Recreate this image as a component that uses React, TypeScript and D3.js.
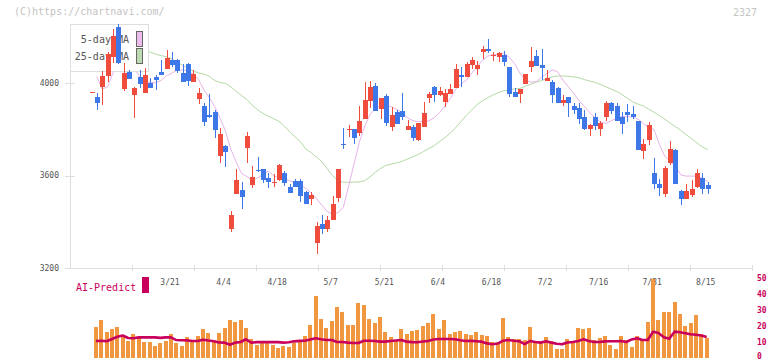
import React, { useEffect, useRef } from "react";
import * as d3 from "d3";

// daily candles, index 0 .. 115
const OPEN = [
  3962, 3942, 3986, 4033, 4116, 4243, 3977, 4049, 3951, 4027, 3960, 4001, 4026, 4049, 4061, 4101,
  4101, 4046, 4084, 4007, 3931, 3902, 3863, 3877, 3685, 3728, 3369, 3521, 3538, 3721, 3560, 3625,
  3629, 3591, 3569, 3581, 3613, 3552, 3577, 3577, 3528, 3499, 3307, 3391, 3367, 3408, 3502, 3738,
  3799, 3802, 3783, 3844, 3925, 3990, 3887, 3945, 3812, 3874, 3882, 3798, 3812, 3754, 3812, 3938,
  3986, 3949, 3921, 3954, 3981, 4036, 4026, 4079, 4062, 4134, 4149, 4119, 4113, 4123, 4069, 3964,
  3954, 3997, 4072, 4118, 4079, 4012, 4007, 3981, 3913, 3939, 3902, 3892, 3853, 3802, 3853, 3802,
  3856, 3913, 3902, 3856, 3876, 3867, 3837, 3708, 3754, 3610, 3564, 3520, 3656, 3711, 3535, 3499,
  3516, 3552, 3591, 3559,
];
const HIGH = [
  3962, 3960, 4053, 4134, 4234, 4257, 4087, 4058, 3986, 4058, 4065, 4022, 4036, 4101, 4144, 4137,
  4104, 4084, 4087, 4058, 3978, 3913, 3954, 3884, 3805, 3733, 3445, 3627, 3571, 3789, 3643, 3682,
  3629, 3613, 3606, 3650, 3620, 3564, 3587, 3585, 3535, 3531, 3398, 3430, 3425, 3512, 3629, 3808,
  3819, 3802, 3902, 4007, 4010, 4003, 3935, 3954, 3899, 3884, 3960, 3841, 3819, 3830, 3918, 3964,
  3990, 3986, 3975, 3996, 4084, 4072, 4091, 4116, 4098, 4162, 4191, 4134, 4134, 4142, 4069, 3978,
  3975, 4040, 4156, 4144, 4147, 4058, 4014, 3986, 3949, 3939, 3913, 3916, 3884, 3824, 3870, 3837,
  3923, 3921, 3913, 3877, 3910, 3902, 3837, 3758, 3834, 3678, 3586, 3643, 3750, 3715, 3538, 3564,
  3581, 3629, 3610, 3571,
];
const LOW = [
  3962, 3884, 3906, 4007, 4090, 4082, 3967, 4019, 3851, 3981, 3960, 3978, 3971, 4036, 4061, 4072,
  4043, 4007, 3990, 4007, 3910, 3815, 3848, 3765, 3656, 3636, 3357, 3521, 3457, 3653, 3548, 3616,
  3567, 3548, 3552, 3577, 3555, 3523, 3552, 3487, 3477, 3471, 3259, 3346, 3354, 3408, 3487, 3714,
  3769, 3736, 3772, 3844, 3895, 3882, 3844, 3815, 3793, 3824, 3841, 3798, 3752, 3752, 3812, 3916,
  3921, 3947, 3899, 3954, 3981, 3986, 4026, 4061, 4036, 4104, 4130, 4098, 4094, 4077, 3942, 3942,
  3916, 3997, 4051, 4075, 4014, 4012, 3916, 3916, 3902, 3856, 3866, 3824, 3798, 3772, 3798, 3772,
  3837, 3867, 3838, 3780, 3834, 3844, 3711, 3672, 3733, 3541, 3513, 3509, 3646, 3564, 3473, 3499,
  3506, 3548, 3519, 3519,
];
const CLOSE = [
  3962, 3916, 4032, 4127, 4205, 4090, 4043, 4019, 3980, 3999, 4036, 3978, 4014, 4038, 4111, 4081,
  4053, 4007, 4012, 4040, 3958, 3834, 3856, 3798, 3780, 3701, 3430, 3581, 3509, 3772, 3596, 3620,
  3581, 3574, 3572, 3646, 3570, 3526, 3552, 3513, 3477, 3516, 3382, 3368, 3408, 3477, 3629, 3736,
  3801, 3762, 3837, 3928, 3986, 3882, 3935, 3830, 3863, 3824, 3856, 3815, 3765, 3827, 3870, 3954,
  3949, 3968, 3957, 3975, 4062, 4026, 4084, 4101, 4079, 4149, 4142, 4121, 4130, 4094, 3954, 3942,
  3975, 4040, 4097, 4075, 4068, 4025, 3949, 3916, 3928, 3916, 3884, 3845, 3802, 3819, 3817, 3827,
  3913, 3882, 3838, 3824, 3863, 3856, 3711, 3737, 3819, 3564, 3548, 3635, 3715, 3564, 3499, 3535,
  3542, 3610, 3542, 3542,
];

const MA5 = [
  null, 4029, 3975, 3985, 4045, 4074, 4097, 4097, 4067, 4026, 4012, 4003, 4003, 4013, 4033, 4044,
  4057, 4058, 4053, 4040, 4014, 3972, 3938, 3900, 3848, 3794, 3715, 3660, 3610, 3596, 3580, 3590,
  3605, 3620, 3600, 3590, 3585, 3578, 3570, 3560, 3545, 3525, 3500, 3472, 3445, 3432, 3440, 3462,
  3555, 3650, 3745, 3815, 3865, 3890, 3906, 3905, 3898, 3887, 3873, 3850, 3838, 3834, 3834, 3838,
  3852, 3874, 3902, 3935, 3975, 3998, 4014, 4045, 4072, 4100, 4118, 4124, 4127, 4130, 4112, 4085,
  4043, 4012, 4005, 4007, 4025, 4043, 4058, 4050, 4014, 3985, 3957, 3925, 3900, 3873, 3850, 3832,
  3826, 3838, 3848, 3856, 3856, 3854, 3845, 3826, 3810, 3800, 3735, 3685, 3660, 3640, 3603, 3598,
  3598, 3598, 3590, 3575,
];
const MA25 = [
  4190, 4185, 4180, 4175, 4170, 4165, 4160, 4155, 4150, 4146, 4142, 4135, 4126, 4120, 4115, 4105,
  4090, 4078, 4068, 4052, 4045, 4040, 4030, 4012, 4003, 4000, 3985, 3965, 3947, 3930, 3905, 3885,
  3870, 3858, 3847, 3835, 3815, 3790, 3768, 3747, 3715, 3700, 3680, 3660, 3630, 3600, 3578, 3572,
  3571, 3572, 3573, 3578, 3595, 3615, 3632, 3645, 3650, 3656, 3662, 3672, 3682, 3692, 3705, 3718,
  3730, 3748, 3765, 3785, 3808, 3835, 3862, 3885, 3908, 3925, 3938, 3950, 3960, 3968, 3972, 3976,
  3978, 3988, 3996, 4005, 4012, 4020, 4028, 4032, 4032, 4030, 4028, 4024, 4016, 4010, 4004, 3995,
  3985, 3975, 3965, 3952, 3935, 3920, 3910, 3902, 3888, 3875, 3860, 3845, 3828, 3812, 3796, 3778,
  3760, 3742, 3725, 3712,
];

// lower panel, index 1 .. 115
const VOLUME = [
  19.5, 23.7, 16.4, 17.9, 19.3, 13.2, 10.7, 14.9, 12.8, 9.9, 9.9, 7.4, 9.5, 10.5, 14.9, 9.1,
  7.4, 13.0, 10.9, 13.7, 18.1, 15.8, 10.3, 15.8, 18.7, 23.7, 22.5, 23.7, 18.7, 11.8, 8.2, 9.5,
  10.3, 8.0, 6.3, 7.4, 6.5, 9.5, 10.3, 13.7, 20.6, 39.0, 24.4, 18.7, 23.1, 31.9, 28.8, 20.6,
  20.6, 34.4, 33.4, 24.4, 21.9, 25.6, 16.2, 13.0, 10.5, 18.1, 14.9, 16.8, 17.4, 20.0, 21.9, 27.5,
  18.1, 23.7, 14.9, 16.2, 16.6, 14.9, 14.3, 16.2, 14.3, 13.7, 9.9, 9.9, 25.0, 13.0, 11.8, 11.8,
  11.1, 19.3, 10.5, 9.9, 13.0, 10.5, 5.5, 5.5, 11.8, 9.9, 18.7, 18.1, 18.7, 11.1, 12.4, 13.7,
  8.0, 5.5, 13.7, 11.1, 6.7, 13.7, 11.1, 22.5, 49.6, 23.7, 28.8, 28.8, 34.9, 27.5, 20.0, 21.9,
  26.9, 14.9, 12.4,
];
const AI_PREDICT = [
  10.5, 10.7, 10.4, 11.8, 13.2, 14.0, 12.4, 12.2, 12.8, 12.8, 12.8, 12.8, 12.5, 12.8, 12.8, 11.1,
  11.0, 10.9, 10.5, 10.5, 11.3, 10.8, 10.4, 9.6, 9.5, 8.2, 9.5, 9.9, 11.6, 9.5, 9.8, 9.8,
  9.8, 9.8, 9.8, 9.5, 9.7, 10.3, 10.6, 10.7, 11.5, 12.2, 11.6, 11.1, 11.1, 9.9, 9.9, 9.5,
  9.3, 9.3, 10.7, 10.7, 10.5, 10.1, 10.1, 10.5, 10.8, 11.1, 10.1, 9.8, 9.7, 10.2, 10.5, 11.5,
  11.8, 11.8, 11.8, 11.6, 11.0, 10.5, 10.6, 10.4, 10.1, 9.0, 8.5, 8.9, 10.7, 11.1, 10.7, 10.4,
  8.5, 10.5, 9.9, 9.5, 10.3, 9.5, 8.8, 8.5, 9.6, 9.9, 10.5, 11.6, 10.5, 9.9, 9.9, 10.3,
  10.4, 10.4, 10.5, 9.9, 11.5, 12.2, 11.1, 11.1, 16.4, 15.5, 12.9, 11.9, 16.4, 16.0, 15.4, 14.8,
  14.5, 14.0, 13.1,
];

const DATE_LABELS = ["3/21", "4/4", "4/18", "5/7", "5/21", "6/4", "6/18", "7/2", "7/16", "7/31", "8/15"];
const DATE_IDX = [14, 24, 34, 44, 54, 64, 74, 84, 94, 104, 114];
const PRICE_TICKS = [3200, 3600, 4000];
const RIGHT_TICKS = [0, 10, 20, 30, 40, 50];

const UP = "#ef4c3d";
const DOWN = "#3d77e8";
const CRIMSON = "#c9005b";
const MONO = "'DejaVu Sans Mono', monospace";

export default function App() {
  const svgRef = useRef<SVGSVGElement | null>(null);

  useEffect(() => {
    const svg = svgRef.current;
    if (!svg) return;
    const W = 772;
    const H = 361;
    const M = { l: 70, r: 752, t: 24, b: 268 };

    const x = d3.scaleLinear().domain([0, OPEN.length - 1]).range([91.5, 707.6]);
    const y = d3.scaleLinear().domain([3200, 4000]).range([M.b, 83.3]);
    const yv = d3.scaleLinear().domain([0, 50]).range([357.7, 278.3]);
    const grid = d3.scaleLinear().domain([0, 11]).range([M.l, M.r]);

    const sel = d3.select(svg);
    sel.selectAll("*").remove();
    sel.append("rect").attr("width", W).attr("height", H).attr("fill", "#fff");

    sel
      .append("text")
      .attr("x", 14)
      .attr("y", 14.5)
      .attr("font-family", MONO)
      .attr("font-size", 10)
      .attr("fill", "#c4c4c4")
      .text("(C)https://chartnavi.com/");

    sel
      .append("text")
      .attr("x", 757)
      .attr("y", 15.5)
      .attr("text-anchor", "end")
      .attr("font-family", MONO)
      .attr("font-size", 10)
      .attr("fill", "#c4c4c4")
      .text("2327");

    // axes
    const ax = sel.append("g").attr("shape-rendering", "crispEdges");
    ax.append("line")
      .attr("x1", M.l + 0.5).attr("x2", M.l + 0.5)
      .attr("y1", M.t).attr("y2", M.b)
      .attr("stroke", "#dedede");
    ax.append("line")
      .attr("x1", M.l).attr("x2", M.r)
      .attr("y1", M.b + 0.5).attr("y2", M.b + 0.5)
      .attr("stroke", "#dedede");
    ax.selectAll(".xt")
      .data(d3.range(1, 12))
      .enter()
      .append("line")
      .attr("x1", (d) => Math.round(grid(d)) + 0.5)
      .attr("x2", (d) => Math.round(grid(d)) + 0.5)
      .attr("y1", M.b - 3)
      .attr("y2", M.b + 3)
      .attr("stroke", "#dedede");
    ax.selectAll(".yt")
      .data(PRICE_TICKS)
      .enter()
      .append("line")
      .attr("x1", 65)
      .attr("x2", 75)
      .attr("y1", (d) => Math.round(y(d)) + 0.5)
      .attr("y2", (d) => Math.round(y(d)) + 0.5)
      .attr("stroke", "#dedede");

    sel
      .append("g")
      .selectAll("text")
      .data(PRICE_TICKS)
      .enter()
      .append("text")
      .attr("x", 59)
      .attr("y", (d) => y(d) + 2.8)
      .attr("text-anchor", "end")
      .attr("font-family", MONO)
      .attr("font-size", 8)
      .attr("fill", "#555")
      .text((d) => d);

    sel
      .append("g")
      .selectAll("text")
      .data(DATE_LABELS)
      .enter()
      .append("text")
      .attr("x", (_, i) => x(DATE_IDX[i]) + 3.5)
      .attr("y", 285)
      .attr("text-anchor", "middle")
      .attr("font-family", MONO)
      .attr("font-size", 8)
      .attr("fill", "#555")
      .text((d) => d);

    // moving averages
    const ma = d3
      .line<number | null>()
      .defined((d) => d != null)
      .x((_, i) => x(i))
      .y((d) => y(d as number));
    sel.append("path").attr("d", ma(MA25)).attr("fill", "none").attr("stroke", "#b3d9a6").attr("stroke-width", 1);
    sel.append("path").attr("d", ma(MA5)).attr("fill", "none").attr("stroke", "#e8b3e8").attr("stroke-width", 1);

    // legend box
    const lg = sel.append("g").attr("shape-rendering", "crispEdges");
    lg.append("rect").attr("x", 70.5).attr("y", 24.5).attr("width", 78).attr("height", 47)
      .attr("fill", "#fff").attr("stroke", "#dedede");
    const legendItems = [
      { label: "5-day MA", color: "#ecbcec", yy: 43 },
      { label: "25-day MA", color: "#bddbb3", yy: 60 },
    ];
    legendItems.forEach((it, i) => {
      lg.append("text")
        .attr("x", 129)
        .attr("y", it.yy)
        .attr("text-anchor", "end")
        .attr("font-family", MONO)
        .attr("font-size", 10)
        .attr("fill", "#555")
        .text(it.label);
      lg.append("rect")
        .attr("x", 136.5)
        .attr("y", 31.5 + i * 17)
        .attr("width", 6)
        .attr("height", 15)
        .attr("fill", it.color)
        .attr("stroke", "#666");
    });

    // candles
    const cg = sel.append("g").attr("shape-rendering", "crispEdges");
    const idx = d3.range(OPEN.length);
    cg.selectAll(".wick")
      .data(idx)
      .enter()
      .append("line")
      .attr("x1", (i) => Math.round(x(i)) + 0.5)
      .attr("x2", (i) => Math.round(x(i)) + 0.5)
      .attr("y1", (i) => y(HIGH[i]))
      .attr("y2", (i) => y(LOW[i]))
      .attr("stroke", (i) => (CLOSE[i] >= OPEN[i] ? UP : DOWN));
    cg.selectAll(".body")
      .data(idx)
      .enter()
      .append("rect")
      .attr("x", (i) => Math.round(x(i)) - 2)
      .attr("width", 5)
      .attr("y", (i) => y(Math.max(OPEN[i], CLOSE[i])))
      .attr("height", (i) => Math.max(1, Math.abs(y(OPEN[i]) - y(CLOSE[i]))))
      .attr("fill", (i) => (CLOSE[i] >= OPEN[i] ? UP : DOWN));

    // AI-Predict panel
    sel.append("text")
      .attr("x", 76)
      .attr("y", 290.5)
      .attr("font-family", MONO)
      .attr("font-size", 10)
      .attr("fill", CRIMSON)
      .text("AI-Predict");
    sel.append("rect")
      .attr("x", 142).attr("y", 277).attr("width", 7).attr("height", 16)
      .attr("fill", CRIMSON);

    sel
      .append("g")
      .attr("shape-rendering", "crispEdges")
      .selectAll("rect")
      .data(VOLUME)
      .enter()
      .append("rect")
      .attr("x", (_, i) => Math.round(x(i + 1) - 2.9))
      .attr("width", 4)
      .attr("y", (d) => yv(d))
      .attr("height", (d) => yv(0) - yv(d))
      .attr("fill", "#f0973f");

    const ai = d3
      .line<number>()
      .x((_, i) => x(i + 1) - 0.9)
      .y((d) => yv(d));
    sel.append("path").attr("d", ai(AI_PREDICT)).attr("fill", "none")
      .attr("stroke", CRIMSON).attr("stroke-width", 2.6).attr("stroke-linejoin", "round");

    sel
      .append("g")
      .selectAll("text")
      .data(RIGHT_TICKS)
      .enter()
      .append("text")
      .attr("x", 757)
      .attr("y", (d) => Math.min(yv(d) + 3, 358.5))
      .attr("font-family", MONO)
      .attr("font-size", 8)
      .attr("font-weight", "bold")
      .attr("fill", CRIMSON)
      .text((d) => d);
  }, []);

  return (
    <svg
      ref={svgRef}
      width={772}
      height={361}
      style={{ position: "absolute", left: 0, top: 0, display: "block" }}
    />
  );
}
